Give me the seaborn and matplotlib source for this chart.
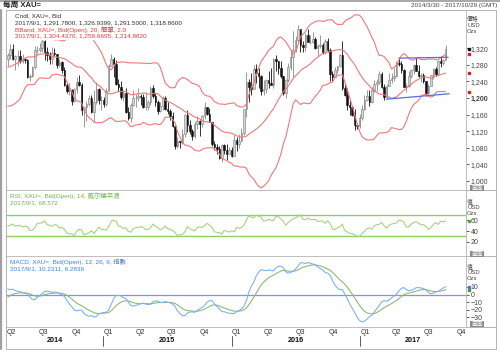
import numpy as np
import pandas as pd
import matplotlib
matplotlib.use('Agg')
import matplotlib.pyplot as plt
import matplotlib.transforms as mtransforms
import matplotlib.dates as mdates
import seaborn as sns

sns.set_theme(style='white')
plt.rcParams['font.family'] = ['Liberation Sans', 'Noto Sans CJK TC', 'DejaVu Sans']

# weekly closes before the visible window, only used to warm up the indicators
warmup_close = [1383, 1387, 1297, 1234, 1223, 1277, 1295, 1322, 1310, 1313, 1372, 1396, 1396,
                1387, 1308, 1333, 1338, 1310, 1272, 1315, 1352, 1314, 1287, 1288, 1244, 1250,
                1231, 1236, 1203, 1213, 1237, 1247, 1254, 1264, 1240, 1262, 1318, 1324, 1326,
                1339, 1379, 1335, 1294]

first_week = '2014-04-04'

close = [1303, 1318, 1293, 1301, 1302, 1288, 1293, 1292, 1250, 1252, 1274, 1316, 1316, 1320,
         1337, 1310, 1303, 1294, 1309, 1305, 1280, 1287, 1268, 1230, 1216, 1218, 1192, 1222,
         1238, 1231, 1171, 1177, 1185, 1201, 1167, 1191, 1222, 1195, 1195,
         1186, 1216, 1277, 1293, 1283, 1234, 1227, 1203, 1212, 1165, 1152, 1183, 1199, 1200,
         1205, 1203, 1178, 1178, 1189, 1225, 1204, 1190, 1169, 1180, 1201, 1173, 1168, 1157,
         1133, 1085, 1095, 1094, 1113, 1160, 1134, 1121, 1108, 1138, 1145, 1137, 1156, 1177,
         1162, 1142, 1088, 1081, 1076, 1056, 1086, 1075, 1065, 1075,
         1061, 1098, 1089, 1097, 1116, 1173, 1239, 1227, 1222, 1270, 1259, 1254, 1217, 1222,
         1243, 1235, 1231, 1293, 1290, 1273, 1252, 1212, 1243, 1275, 1298, 1315, 1340, 1366,
         1327, 1323, 1351, 1336, 1336, 1341, 1321, 1326, 1328, 1310, 1337, 1316, 1257, 1251,
         1267, 1276, 1304, 1225, 1208, 1183, 1177, 1160, 1134, 1132, 1151,
         1173, 1196, 1204, 1190, 1220, 1234, 1238, 1257, 1226, 1202, 1229, 1243, 1249, 1254,
         1285, 1283, 1268, 1227, 1228, 1254, 1268, 1280, 1266, 1254, 1256, 1242, 1212, 1228,
         1255, 1269, 1258, 1289, 1285, 1291, 1318.86]

high = [1308, 1331, 1331, 1304, 1315, 1315, 1305, 1296, 1295, 1258, 1277, 1325, 1326, 1332,
        1345, 1339, 1323, 1311, 1322, 1321, 1306, 1293, 1290, 1275, 1238, 1236, 1222, 1225,
        1250, 1255, 1237, 1178, 1192, 1208, 1207, 1220, 1238, 1223, 1205,
        1202, 1223, 1282, 1307, 1299, 1292, 1245, 1240, 1220, 1223, 1178, 1187, 1219, 1210,
        1224, 1209, 1209, 1214, 1195, 1228, 1232, 1212, 1196, 1191, 1205, 1205, 1189, 1173,
        1167, 1133, 1105, 1097, 1126, 1162, 1170, 1147, 1124, 1142, 1156, 1146, 1160, 1191,
        1179, 1176, 1143, 1096, 1090, 1084, 1088, 1088, 1089, 1081,
        1082, 1111, 1105, 1112, 1128, 1174, 1263, 1245, 1261, 1280, 1283, 1272, 1256, 1243,
        1245, 1265, 1271, 1297, 1304, 1290, 1289, 1252, 1245, 1285, 1315, 1362, 1350, 1375,
        1367, 1337, 1357, 1367, 1352, 1358, 1347, 1331, 1352, 1332, 1343, 1344, 1320, 1266,
        1275, 1277, 1307, 1338, 1235, 1223, 1194, 1181, 1173, 1139, 1162,
        1182, 1207, 1220, 1219, 1226, 1244, 1245, 1264, 1263, 1234, 1233, 1261, 1259, 1273,
        1289, 1296, 1290, 1269, 1236, 1264, 1270, 1282, 1296, 1280, 1261, 1261, 1242, 1234,
        1256, 1271, 1275, 1292, 1301, 1293, 1326.94]

low = [1277, 1295, 1291, 1268, 1277, 1284, 1285, 1284, 1249, 1240, 1250, 1269, 1308, 1311,
       1311, 1292, 1290, 1282, 1282, 1300, 1273, 1275, 1259, 1229, 1213, 1207, 1183, 1190,
       1213, 1228, 1160, 1131, 1144, 1180, 1163, 1142, 1186, 1185, 1170,
       1178, 1180, 1216, 1276, 1250, 1232, 1216, 1197, 1193, 1163, 1147, 1142, 1180, 1178,
       1192, 1183, 1175, 1170, 1170, 1182, 1200, 1181, 1162, 1165, 1171, 1170, 1162, 1147,
       1130, 1077, 1079, 1080, 1089, 1106, 1118, 1112, 1098, 1103, 1124, 1107, 1130, 1150,
       1160, 1141, 1085, 1075, 1065, 1052, 1046, 1064, 1050, 1066,
       1057, 1061, 1071, 1080, 1095, 1110, 1155, 1191, 1208, 1225, 1237, 1224, 1208, 1207,
       1211, 1225, 1230, 1225, 1265, 1257, 1247, 1208, 1200, 1238, 1268, 1250, 1310, 1335,
       1310, 1310, 1314, 1334, 1330, 1332, 1317, 1302, 1321, 1306, 1306, 1310, 1241, 1242,
       1250, 1259, 1275, 1220, 1205, 1172, 1160, 1156, 1122, 1124, 1127,
       1146, 1172, 1193, 1180, 1188, 1214, 1216, 1233, 1224, 1195, 1197, 1228, 1237, 1240,
       1250, 1278, 1260, 1227, 1214, 1227, 1247, 1258, 1264, 1250, 1239, 1236, 1205, 1207,
       1228, 1245, 1254, 1256, 1274, 1280, 1291.50]

# hand drawn trend lines
upper_trend_dates = ['2017-04-21', '2017-09-08']
upper_trend_price = [1296, 1298]
lower_trend_dates = ['2017-03-17', '2017-09-11']
lower_trend_price = [1197, 1210]

price_ticks = [1000, 1040, 1080, 1120, 1160, 1200, 1240, 1280, 1320]
rsi_ticks = [20, 40, 60]
macd_ticks = [-30, -20, -10, 0, 10]
years = [2014, 2015, 2016, 2017]

W, H = 500, 352


def px_rect(top, bottom, left=6, right=466):
    return [left / W, 1 - bottom / H, (right - left) / W, (bottom - top) / H]


def ftext(x, y, s, **kw):
    fig.text(x / W, 1 - y / H, s, va='center', **kw)


def fline(xs, ys, **kw):
    fig.add_artist(plt.Line2D([x / W for x in xs], [1 - y / H for y in ys], **kw))


# indicators, all on weekly opens (open = previous close)
all_close = pd.Series(warmup_close + close, dtype=float)
all_dates = pd.date_range(end=pd.Timestamp(first_week) + pd.Timedelta(weeks=len(close) - 1),
                          periods=len(all_close), freq='W-FRI')
opens_all = all_close.shift(1)
opens_all.iloc[-1] = 1291.78
opens_all.index = all_dates

mid = opens_all.rolling(20).mean()
sd = opens_all.rolling(20).std(ddof=0)
bb_up, bb_lo = mid + 2 * sd, mid - 2 * sd

delta = opens_all.diff()
gain = delta.clip(lower=0).ewm(alpha=1 / 14, adjust=False).mean()
loss = (-delta.clip(upper=0)).ewm(alpha=1 / 14, adjust=False).mean()
rsi = 100 - 100 / (1 + gain / loss)

ema12 = opens_all.ewm(span=12, adjust=False).mean()
ema26 = opens_all.ewm(span=26, adjust=False).mean()
macd = ema12 - ema26
signal = macd.ewm(span=9, adjust=False).mean()

vis = all_dates >= pd.Timestamp(first_week)
dates = all_dates[vis]
df = pd.DataFrame({'date': dates, 'open': opens_all[vis].values, 'close': close,
                   'high': high, 'low': low, 'bb_up': bb_up[vis].values, 'bb_mid': mid[vis].values,
                   'bb_lo': bb_lo[vis].values, 'rsi': rsi[vis].values,
                   'macd': macd[vis].values, 'signal': signal[vis].values})

fig = plt.figure(figsize=(W / 100, H / 100), dpi=100)
ax = fig.add_axes(px_rect(10, 190))
ax_rsi = fig.add_axes(px_rect(190, 256), sharex=ax)
ax_macd = fig.add_axes(px_rect(256, 327), sharex=ax)

# candles
up = df[df['close'] >= df['open']]
dn = df[df['close'] < df['open']]
ax.vlines(up['date'], up['low'], up['high'], color='#8a8a8a', lw=0.6, zorder=2)
ax.vlines(dn['date'], dn['low'], dn['high'], color='#111111', lw=0.6, zorder=2)
ax.bar(up['date'], up['close'] - up['open'], bottom=up['open'], width=4.5,
       color='#d4d4d4', edgecolor='#7a7a7a', linewidth=0.4, zorder=3)
ax.bar(dn['date'], dn['close'] - dn['open'], bottom=dn['open'], width=4.5,
       color='#111111', edgecolor='#111111', linewidth=0.4, zorder=3)

bb_color = '#f07878'
for col in ['bb_up', 'bb_mid', 'bb_lo']:
    sns.lineplot(data=df, x='date', y=col, ax=ax, color=bb_color, lw=0.8, zorder=4)

trend_color = '#5a6cd6'
sns.lineplot(x=pd.to_datetime(upper_trend_dates), y=upper_trend_price, ax=ax, color=trend_color, lw=0.9, zorder=5)
sns.lineplot(x=pd.to_datetime(lower_trend_dates), y=lower_trend_price, ax=ax, color=trend_color, lw=0.9, zorder=5)

# white box behind the legend text
ax.add_patch(plt.Rectangle((0, 1 - 30 / 180), 150 / 460, 30 / 180, transform=ax.transAxes,
                           color='white', zorder=6, lw=0))

# RSI
rsi_color = '#a6d47e'
ax_rsi.axhline(70, color='#93cc66', lw=1.0)
ax_rsi.axhline(30, color='#93cc66', lw=1.0)
sns.lineplot(data=df, x='date', y='rsi', ax=ax_rsi, color=rsi_color, lw=0.8)

# MACD
macd_color = '#7fb2f0'
sig_color = '#8fb87a'
ax_macd.axhline(0, color='#6a9ee8', lw=0.9)
sns.lineplot(data=df, x='date', y='signal', ax=ax_macd, color=sig_color, lw=0.8)
sns.lineplot(data=df, x='date', y='macd', ax=ax_macd, color=macd_color, lw=0.8)

ax.set_xlim(pd.Timestamp('2014-03-30'), pd.Timestamp('2017-10-29'))
ax.set_ylim(978, 1412)
ax_rsi.set_ylim(-6.7, 117)
ax_macd.set_ylim(-42.7, 50.7)

q_starts = pd.date_range('2014-04-01', '2017-10-01', freq='QS')
for a in (ax, ax_rsi, ax_macd):
    a.set_xlabel('')
    a.set_ylabel('')
    a.yaxis.tick_right()
    a.tick_params(axis='y', labelsize=5, length=2.5, width=0.6, pad=1, colors='#444444',
                  direction='out', right=True, left=False)
    a.set_xticks(q_starts)
    a.tick_params(axis='x', length=0, labelbottom=False)
    for s in a.spines.values():
        s.set_color('#b4b4b4')
        s.set_linewidth(0.6)

ax.set_yticks(price_ticks)
ax.set_yticklabels([f'{v:,}' for v in price_ticks])
for lab in ax.get_yticklabels():
    if lab.get_text() == '1,200':
        lab.set_fontweight('bold')
ax_rsi.set_yticks(rsi_ticks)
ax_macd.set_yticks(macd_ticks)
ax_macd.tick_params(axis='x', length=2, width=0.5, color='#999999', direction='out')


# last value markers on the right edge
def edge_marks(a, vals, colors):
    tr = mtransforms.blended_transform_factory(a.transAxes, a.transData)
    for v, c in zip(vals, colors):
        a.plot([1.006], [v], marker='s', ms=1.8, color=c, transform=tr, clip_on=False, zorder=10)


last = df.iloc[-1]
edge_marks(ax, [last['close'], last['bb_up'], last['bb_mid'], last['bb_lo']],
           ['#111111', '#d62020', '#d62020', '#d62020'])
edge_marks(ax_rsi, [last['rsi']], ['#5aa83a'])
edge_marks(ax_macd, [last['macd'], last['signal']], ['#3c7ee0', '#4a9a30'])

# header
fline([0, 500], [1, 1], color='#9a9a9a', lw=1.2)
ftext(3, 5.5, '每周 XAU=', fontsize=5.5, color='#222222', fontweight='bold')
ftext(497, 5.5, '2014/3/30 - 2017/10/29 (GMT)', fontsize=4.6, color='#444444', ha='right')

# frame and panel separators
fline([6, 496, 496, 6, 6], [10, 10, 349, 349, 10], color='#b4b4b4', lw=0.7)
for yy in (190, 256, 327):
    fline([466, 496], [yy, yy], color='#b4b4b4', lw=0.7)
fline([1, 1], [10, 349], color='#a0a0a0', lw=1.6)

# panel legends
ftext(15, 15.5, 'Cndl, XAU=, Bid', fontsize=4.6, color='#333333', zorder=10)
ftext(15, 22.5, '2017/9/1, 1,291.7800, 1,326.9399, 1,291.5000, 1,318.8600', fontsize=4.6,
      color='#333333', zorder=10)
ftext(15, 29.5, 'BBand, XAU=, Bid(Open), 20, 簡單, 2.0', fontsize=4.6, color='#e03a3a', zorder=10)
ftext(15, 36, '2017/9/1, 1,304.4370, 1,259.6695, 1,214.8820', fontsize=4.6, color='#e03a3a', zorder=10)
ftext(10, 195.5, 'RSI, XAU=, Bid(Open), 14, 威尔德平滑', fontsize=4.6, color='#6cb84a')
ftext(10, 203, '2017/9/1, 68.572', fontsize=4.6, color='#6cb84a')
ftext(10, 262, 'MACD, XAU=, Bid(Open), 12, 26, 9, 指數', fontsize=4.6, color='#3c82e0')
ftext(10, 268.5, '2017/9/1, 10.2311, 6.2836', fontsize=4.6, color='#3c82e0')

# right axis headers
for top, lines in ((19, ['價格', 'USD', 'Ozs']), (201.5, ['值', 'USD', 'Ozs']), (266, ['值', 'USD', 'Ozs'])):
    for i, s in enumerate(lines):
        ftext(467, top + i * 6.2, s, fontsize=4.2, color='#444444')
for yy in (188, 254, 324):
    ftext(471, yy, '画面', fontsize=4.2, color='white',
          bbox=dict(boxstyle='square,pad=0.15', fc='#8c8c8c', ec='none'))

# time axis labels
x0, x1 = ax.get_xlim()


def date_px(d):
    return 6 + (mdates.date2num(pd.Timestamp(d)) - x0) / (x1 - x0) * 460


for q in q_starts:
    ftext(date_px(q + pd.Timedelta(days=14)), 332, f'Q{(q.month - 1) // 3 + 1}', fontsize=5,
          color='#333333', ha='center')
for y in years:
    a = max(pd.Timestamp(f'{y}-01-01'), pd.Timestamp('2014-03-30'))
    b = min(pd.Timestamp(f'{y}-12-31'), pd.Timestamp('2017-10-29'))
    ftext(date_px(a + (b - a) / 2), 341, str(y), fontsize=5.2, color='#111111',
          fontweight='bold', ha='center')
    if y > 2014:
        xp = date_px(pd.Timestamp(f'{y}-01-01'))
        fline([xp, xp], [336, 346], color='#444444', lw=0.6)

fig.savefig('out.png', dpi=100)
